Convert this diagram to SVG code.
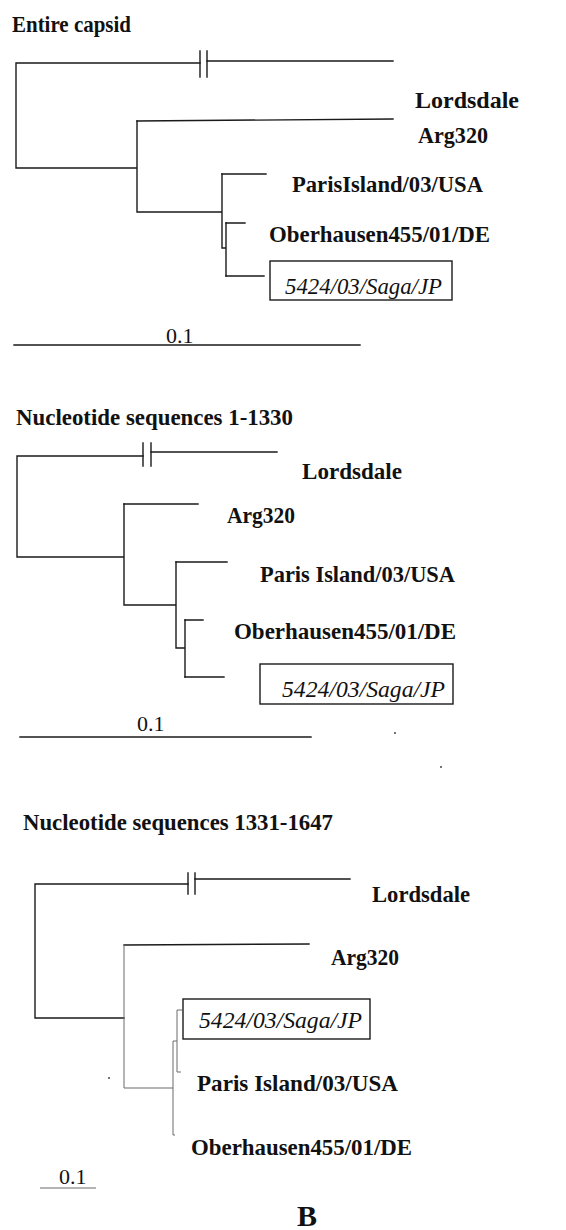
<svg xmlns="http://www.w3.org/2000/svg" width="566" height="1230" viewBox="0 0 566 1230">
<style>
.br{stroke:#1a1a1a;stroke-width:1.4;fill:none;stroke-linecap:square}
.lt{stroke:#6a6a6a;stroke-width:1;fill:none}
.lbl{font-family:"Liberation Serif","Times New Roman",serif;font-weight:bold;font-size:24px;fill:#111}
.ttl{font-family:"Liberation Serif","Times New Roman",serif;font-weight:bold;font-size:23px;fill:#111}
.it{font-family:"Liberation Serif","Times New Roman",serif;font-style:italic;font-size:23px;fill:#111}
.sc{font-family:"Liberation Serif","Times New Roman",serif;font-size:22px;fill:#111}
.box{fill:none;stroke:#1a1a1a;stroke-width:1.4}
.big{font-size:30px}
</style>
<rect width="566" height="1230" fill="#fff"/>

<!-- Tree 1 -->
<g id="tree1-title"><text class="ttl" x="12" y="32" textLength="119" lengthAdjust="spacingAndGlyphs">Entire capsid</text></g>
<g id="tree1-connectors">
<path class="br" d="M200,63 H16 V168 H137 M137,121 V212 H222 M222,174 V248 H226 M226,223 V276"/>
<path class="br" d="M207,61 H393 M137,121 L393,119 M222,174 H266 M226,223 H245 M226,276 H264"/>
<path class="br" d="M200,51 V77 M207,51 V77"/>
<path class="br" d="M14,345 H360"/>
</g>
<g id="t1-lordsdale"><text class="lbl" x="415" y="108" textLength="104" lengthAdjust="spacingAndGlyphs">Lordsdale</text></g>
<g id="t1-arg320"><text class="lbl" x="418" y="143" textLength="70" lengthAdjust="spacingAndGlyphs">Arg320</text></g>
<g id="t1-paris"><text class="lbl" x="292" y="192" textLength="191" lengthAdjust="spacingAndGlyphs">ParisIsland/03/USA</text></g>
<g id="t1-oberhausen"><text class="lbl" x="269" y="242" textLength="221" lengthAdjust="spacingAndGlyphs">Oberhausen455/01/DE</text></g>
<g id="t1-saga"><rect class="box" x="270" y="261" width="182" height="39"/><text class="it" x="285" y="294" textLength="157" lengthAdjust="spacingAndGlyphs">5424/03/Saga/JP</text></g>
<g id="t1-scale"><text class="sc" x="166" y="343">0.1</text></g>

<!-- Tree 2 -->
<g id="tree2-title"><text class="ttl" x="16" y="425" textLength="277" lengthAdjust="spacingAndGlyphs">Nucleotide sequences 1-1330</text></g>
<g id="tree2-connectors">
<path class="br" d="M143,456 H17 V557 H124 M124,504 V605 H176 M176,562 V648 H185 M185,620 V677"/>
<path class="br" d="M151,452 H277 M124,504 H198 M176,562 H227 M185,620 H203 M185,677 H224"/>
<path class="br" d="M143,443 V466 M151,443 V466"/>
<path class="br" d="M20,737 H311"/>
</g>
<g id="t2-lordsdale"><text class="lbl" x="302" y="479" textLength="100" lengthAdjust="spacingAndGlyphs">Lordsdale</text></g>
<g id="t2-arg320"><text class="lbl" x="227" y="523" textLength="68" lengthAdjust="spacingAndGlyphs">Arg320</text></g>
<g id="t2-paris"><text class="lbl" x="260" y="582" textLength="195" lengthAdjust="spacingAndGlyphs">Paris Island/03/USA</text></g>
<g id="t2-oberhausen"><text class="lbl" x="234" y="639" textLength="222" lengthAdjust="spacingAndGlyphs">Oberhausen455/01/DE</text></g>
<g id="t2-saga"><rect class="box" x="260" y="664" width="193" height="40"/><text class="it" x="282" y="697" textLength="163" lengthAdjust="spacingAndGlyphs">5424/03/Saga/JP</text></g>
<g id="t2-scale"><text class="sc" x="137" y="731">0.1</text></g>
<g id="specks"><circle cx="395" cy="733" r="0.9" fill="#333"/><circle cx="441" cy="767" r="0.9" fill="#333"/><circle cx="109" cy="1078" r="0.9" fill="#333"/></g>

<!-- Tree 3 -->
<g id="tree3-title"><text class="ttl" x="23" y="830" textLength="310" lengthAdjust="spacingAndGlyphs">Nucleotide sequences 1331-1647</text></g>
<g id="tree3-connectors">
<path class="br" d="M188,884 H35 V1018 H124 M195,879 H350 M124,945 L309,944"/>
<path class="br" d="M188,873 V894 M195,873 V894"/>
<path class="lt" d="M124,945 V1088 H173 M173,1041 V1135 H175 M173,1041 H177 M177,1010 V1072 H181 M177,1010 H182"/>
<path class="lt" d="M40,1188 H96"/>
</g>
<g id="t3-lordsdale"><text class="lbl" x="372" y="902" textLength="98" lengthAdjust="spacingAndGlyphs">Lordsdale</text></g>
<g id="t3-arg320"><text class="lbl" x="331" y="965" textLength="68" lengthAdjust="spacingAndGlyphs">Arg320</text></g>
<g id="t3-saga"><rect class="box" x="183" y="999" width="187" height="40"/><text class="it" x="199" y="1028" textLength="163" lengthAdjust="spacingAndGlyphs">5424/03/Saga/JP</text></g>
<g id="t3-paris"><text class="lbl" x="197" y="1091" textLength="201" lengthAdjust="spacingAndGlyphs">Paris Island/03/USA</text></g>
<g id="t3-oberhausen"><text class="lbl" x="191" y="1155" textLength="221" lengthAdjust="spacingAndGlyphs">Oberhausen455/01/DE</text></g>
<g id="t3-scale"><text class="sc" x="59" y="1184">0.1</text></g>
<g id="panel-label"><text class="lbl big" x="297" y="1226">B</text></g>
</svg>
